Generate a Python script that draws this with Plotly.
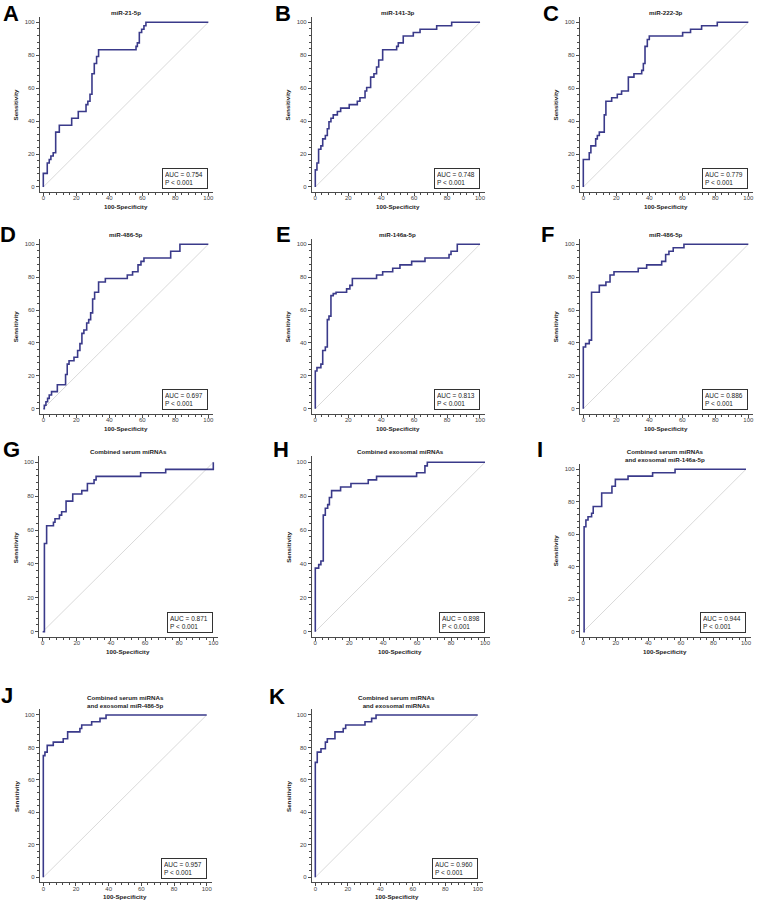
import plotly.graph_objects as go

# ---------------- data ----------------
panel_letters = ["A", "B", "C", "D", "E", "F", "G", "H", "I", "J", "K"]
panel_titles = [
    "miR-21-5p", "miR-141-3p", "miR-222-3p",
    "miR-486-5p", "miR-146a-5p", "miR-486-5p",
    "Combined serum miRNAs", "Combined exosomal miRNAs",
    "Combined serum miRNAs<br>and exosomal miR-146a-5p",
    "Combined serum miRNAs<br>and exosomal miR-486-5p",
    "Combined serum miRNAs<br>and exosomal miRNAs",
]
auc_values = ["0.754", "0.748", "0.779", "0.697", "0.813", "0.886",
              "0.871", "0.898", "0.944", "0.957", "0.960"]
p_text = "P < 0.001"
x_title = "100-Specificity"
y_title = "Sensitivity"
tick_values = [0, 20, 40, 60, 80, 100]

fpr_A = [0, 0, 2.4, 3.6, 4.6, 6, 7.5, 9.7, 17.2, 21.2, 25.9, 27, 28.3, 29.5, 30.9, 32.3, 33.5, 56.2, 57, 58.2, 59.6, 61, 62.2, 100]
sens_A = [0, 8.3, 14.6, 16.7, 18.8, 20.8, 33.3, 37.5, 41.7, 45.8, 50, 52.1, 56.3, 68.8, 75, 79.2, 83.3, 85.4, 87.5, 93.8, 95.8, 97.9, 100, 100]

fpr_B = [0, 0, 1, 2, 3.4, 4.5, 6.1, 7.3, 8.3, 9.5, 10.9, 13.4, 15.4, 20.6, 25.5, 27.1, 30.2, 31.2, 33.6, 35.6, 37.2, 38.5, 40.9, 49.4, 50.4, 53.4, 59.5, 63.6, 73.7, 82.8, 100]
sens_B = [0, 10.4, 14.6, 22.9, 25, 29.2, 31.3, 35.4, 39.6, 41.7, 43.8, 45.8, 47.9, 50, 52.1, 54.2, 58.3, 60.4, 66.7, 68.8, 72.9, 77.1, 83.3, 85.4, 87.5, 91.7, 93.8, 95.8, 97.9, 100, 100]

fpr_C = [0, 0, 3.6, 4.6, 7.5, 8.5, 9.7, 12.7, 13.7, 17.2, 20.6, 23.2, 27.3, 30.7, 35.4, 36.4, 37.4, 38.8, 40, 60.2, 65, 71.7, 81.2, 100]
sens_C = [0, 16.7, 20.8, 25, 29.2, 31.3, 33.3, 43.8, 52.1, 54.2, 56.3, 58.3, 66.7, 68.8, 70.8, 75, 85.4, 89.6, 91.7, 93.8, 95.8, 97.9, 100, 100]

fpr_D = [0, 0.6, 1.6, 2.6, 3.6, 5, 8.5, 13.5, 14.5, 15.6, 18.6, 20.8, 22.2, 23.4, 24.6, 26.3, 27.5, 28.7, 29.9, 31.1, 33.5, 37.6, 50.9, 54.1, 57.4, 59.2, 61, 77.2, 82.8, 100]
sens_D = [0, 2.1, 4.2, 6.3, 8.3, 10.4, 14.6, 20.8, 27.1, 29.2, 31.3, 35.4, 39.6, 45.8, 47.9, 52.1, 54.2, 58.3, 66.7, 70.8, 77.1, 79.2, 81.3, 83.3, 87.5, 89.6, 91.7, 95.8, 100, 100]

fpr_E = [0, 0, 1, 3.4, 4.5, 6.1, 7.3, 8.3, 9.5, 10.9, 12.6, 19, 21, 22.5, 37.2, 40.9, 47, 51.4, 58.5, 66.6, 81.2, 82.4, 86.2, 100]
sens_E = [0, 22.9, 25, 27.1, 35.4, 37.5, 54.2, 56.3, 68.8, 70, 70.8, 72.9, 75, 79.2, 81.3, 83.3, 85.4, 87.5, 89.6, 91.7, 93.8, 95.8, 100, 100]

fpr_F = [0, 0, 1.4, 3.6, 5, 9.7, 13.7, 16.2, 18.6, 33.3, 38.4, 47.5, 49.9, 51.9, 54.5, 61, 100]
sens_F = [0, 37.5, 39.6, 41.7, 70.8, 75, 77.1, 81.3, 83.3, 85.4, 87.5, 89.6, 93.8, 95.8, 97.9, 100, 100]

fpr_G = [0, 1, 1, 2.3, 6.3, 7.2, 9.8, 11.1, 13.7, 17.6, 22.9, 26.2, 30.1, 31.3, 57.4, 72.1, 100, 100]
sens_G = [0, 0, 52.1, 62.5, 64.6, 66.7, 68.8, 70.8, 77.1, 81.3, 83.3, 87.5, 89.6, 91.7, 93.8, 95.8, 95.8, 100]

fpr_H = [0, 0, 2, 3.3, 4.7, 5.9, 7.3, 8.3, 9.6, 14.9, 21, 31.2, 36.1, 59.7, 64.6, 66, 100]
sens_H = [0, 37.5, 39.6, 41.7, 68.8, 72.9, 75, 79.2, 83.3, 85.4, 87.5, 89.6, 91.7, 93.8, 97.9, 100, 100]

fpr_I = [0, 0.5, 1.6, 2.9, 5.1, 6.1, 11.3, 17.6, 19.7, 27.5, 42.6, 56.4, 100]
sens_I = [0, 64.6, 68.8, 70.8, 72.9, 77.1, 85.4, 89.6, 93.8, 95.8, 97.9, 100, 100]

fpr_J = [0, 0, 1, 2.4, 6.1, 12.2, 14.9, 22.4, 23.5, 29.6, 34.7, 38.4, 100]
sens_J = [0, 75, 77.1, 81.3, 83.3, 85.4, 89.6, 91.7, 93.8, 95.8, 97.9, 100, 100]

fpr_K = [0, 0, 1.2, 3.5, 6.2, 7.4, 12.1, 17.2, 18.7, 30.6, 34.7, 37.4, 100]
sens_K = [0, 70.8, 77.1, 79.2, 83.3, 85.4, 89.6, 91.7, 93.8, 95.8, 97.9, 100, 100]

fpr_all = [fpr_A, fpr_B, fpr_C, fpr_D, fpr_E, fpr_F, fpr_G, fpr_H, fpr_I, fpr_J, fpr_K]
sens_all = [sens_A, sens_B, sens_C, sens_D, sens_E, sens_F, sens_G, sens_H, sens_I, sens_J, sens_K]

# ---------------- layout geometry (pixels) ----------------
W, H = 758, 904
# (x px of 0, x px of 100, y px of 0, y px of 100)
geom = [
    (43.3, 208.3, 187.0, 22.3), (315.3, 480.0, 187.0, 22.3), (583.3, 748.3, 187.0, 22.3),
    (43.3, 208.3, 408.7, 244.3), (315.3, 480.0, 408.7, 244.3), (583.3, 748.3, 408.7, 244.3),
    (42.7, 213.3, 631.7, 462.3), (315.3, 485.0, 631.7, 462.3), (583.3, 746.0, 631.7, 469.3),
    (43.3, 206.7, 877.3, 715.0), (315.3, 477.7, 877.3, 715.0),
]
title_y = [12.3, 12.3, 12.3, 234, 234, 234, 451.7, 451.7, 455, 701, 701]
letter_pos = [(11, 13), (283, 13), (551, 13), (8, 234), (283, 234), (547, 234),
              (11, 450), (281, 450), (540, 449), (7, 695), (277, 696)]

XR = (-2.0, 103.0)
YR = (-3.0, 103.5)

CURVE = "#3a3a8a"
AXC = "#4a4a4a"
FONT = "Liberation Sans, Arial, sans-serif"

fig = go.Figure()
annotations = []
layout_axes = {}

for i in range(11):
    p0, p100, q0, q100 = geom[i]
    sx = (p100 - p0) / 100.0
    sy = (q0 - q100) / 100.0
    left = p0 + XR[0] * sx
    right = p0 + XR[1] * sx
    bottom = q0 - YR[0] * sy
    top = q0 - YR[1] * sy
    xd = [left / W, min(right / W, 1.0)]
    yd = [1 - bottom / H, 1 - top / H]
    n = "" if i == 0 else str(i + 1)
    xa, ya = "x" + n, "y" + n

    fig.add_trace(go.Scatter(x=[0, 100], y=[0, 100], xaxis=xa, yaxis=ya, mode="lines",
                             line=dict(color="#cfcfcf", width=0.8), showlegend=False,
                             hoverinfo="skip"))
    fig.add_trace(go.Scatter(x=fpr_all[i], y=sens_all[i], xaxis=xa, yaxis=ya, mode="lines",
                             line=dict(color=CURVE, width=1.6, shape="hv"), showlegend=False))

    common = dict(showline=True, linecolor=AXC, linewidth=1.3, ticks="outside", ticklen=3,
                  tickwidth=1, tickcolor=AXC, tickvals=tick_values, showgrid=False,
                  zeroline=False, tickfont=dict(size=6, color="#444", family=FONT),
                  minor=dict(dtick=4, tick0=0, ticks="outside", ticklen=2, tickwidth=0.8,
                             tickcolor=AXC),
                  fixedrange=True)
    layout_axes["xaxis" + n] = dict(domain=xd, range=list(XR), anchor=ya,
                                    ticklabelstandoff=-3, **common)
    layout_axes["yaxis" + n] = dict(domain=yd, range=list(YR), anchor=xa, **common)

    cx = (p0 + p100) / 2.0
    # title
    annotations.append(dict(text="<b>" + panel_titles[i] + "</b>", x=cx / W, y=1 - title_y[i] / H,
                            xref="paper", yref="paper", xanchor="center", yanchor="middle",
                            showarrow=False, font=dict(size=6.2, color="#222", family=FONT)))
    # x title
    annotations.append(dict(text="<b>" + x_title + "</b>", x=cx / W, y=1 - (q0 + 19.5) / H,
                            xref="paper", yref="paper", xanchor="center", yanchor="middle",
                            showarrow=False, font=dict(size=6.2, color="#222", family=FONT)))
    # y title
    annotations.append(dict(text="<b>" + y_title + "</b>", x=(p0 - 27.5) / W,
                            y=1 - ((q0 + q100) / 2.0) / H,
                            xref="paper", yref="paper", xanchor="center", yanchor="middle",
                            textangle=-90, showarrow=False,
                            font=dict(size=6.2, color="#222", family=FONT)))
    # AUC box
    annotations.append(dict(text="AUC = " + auc_values[i] + "<br>" + p_text,
                            x=100, y=-1, xref=xa, yref=ya, xanchor="right", yanchor="bottom",
                            align="left", showarrow=False, bgcolor="white",
                            bordercolor="#333", borderwidth=1, borderpad=2, width=40,
                            font=dict(size=6.5, color="#222", family=FONT)))
    # panel letter
    lx, ly = letter_pos[i]
    annotations.append(dict(text="<b>" + panel_letters[i] + "</b>", x=lx / W, y=1 - ly / H,
                            xref="paper", yref="paper", xanchor="center", yanchor="middle",
                            showarrow=False, font=dict(size=22, color="black", family=FONT)))

fig.update_layout(width=W, height=H, autosize=False,
                  margin=dict(l=0, r=0, t=0, b=0, pad=0),
                  paper_bgcolor="white", plot_bgcolor="white",
                  annotations=annotations, showlegend=False, **layout_axes)

fig.write_html("out.html", config={"displayModeBar": False},
               post_script="document.body.style.margin='0px';document.body.style.overflow='hidden';")
